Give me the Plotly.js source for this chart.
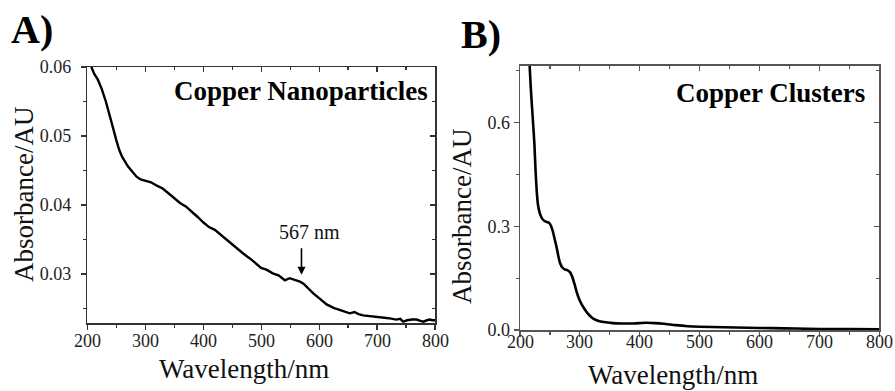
<!DOCTYPE html>
<html>
<head>
<meta charset="utf-8">
<script src="https://cdn.plot.ly/plotly-3.0.1.min.js"></script>
<style>html,body{margin:0;padding:0;background:#fff}#chart{width:895px;height:391px}</style>
</head>
<body>
<div id="chart"></div>
<script>
// Panel A: Copper Nanoparticles
const wlA = [207,212,218,225,232,238,245,250,255,260,265,270,275,280,285,292,300,310,320,330,340,350,360,370,380,390,400,410,420,430,440,450,460,470,480,490,500,510,515,520,530,536,541,549,556,562,567,573,580,590,600,613,625,639,646,653,661,668,676,690,705,720,733,740,745,752,760,768,775,780,786,791,796,800];
const absA = [0.0600,0.0590,0.0582,0.0568,0.0550,0.0533,0.0510,0.0494,0.0480,0.0470,0.0462,0.0456,0.0451,0.0446,0.0441,0.0437,0.0435,0.0433,0.0428,0.0424,0.0417,0.0410,0.0403,0.0398,0.0391,0.0383,0.0375,0.0368,0.0364,0.0357,0.0350,0.0343,0.0335,0.0329,0.0323,0.0316,0.0309,0.0306,0.0303,0.0301,0.0298,0.0294,0.0291,0.0294,0.0292,0.0291,0.0289,0.0286,0.0280,0.0272,0.0265,0.0256,0.0251,0.0247,0.0246,0.0243,0.0245,0.0242,0.0240,0.0239,0.0237,0.0236,0.0234,0.0235,0.0231,0.0233,0.0234,0.0234,0.0232,0.0231,0.0233,0.0234,0.0233,0.0233];

// Panel B: Copper Clusters
const wlB = [215,218,221,224,226,228,230,233,237,241,245,249,252,255,258,261,264,267,271,275,279,283,287,291,295,299,303,308,313,318,323,330,340,355,370,390,410,425,440,460,480,500,540,580,620,660,700,750,800];
const absB = [0.800,0.700,0.620,0.540,0.460,0.400,0.362,0.338,0.322,0.315,0.312,0.309,0.300,0.284,0.262,0.240,0.214,0.193,0.180,0.175,0.173,0.168,0.155,0.133,0.108,0.088,0.074,0.060,0.048,0.039,0.032,0.027,0.023,0.020,0.019,0.019,0.021,0.020,0.018,0.014,0.011,0.0095,0.008,0.0067,0.0053,0.0042,0.0030,0.0025,0.0020];

const xTicks = [200,300,400,500,600,700,800];
const yTicksA = [0.03,0.04,0.05,0.06];
const yTicksB = [0.0,0.3,0.6];

const labelA = 'A)', labelB = 'B)';
const titleA = 'Copper Nanoparticles', titleB = 'Copper Clusters';
const peakLabel = '567 nm', peakWl = 569.6, peakAbs = 0.0299;
const xTitle = 'Wavelength/nm', yTitle = 'Absorbance/AU';

const W = 895, H = 391;
const px = v => v / W, py = v => 1 - v / H;
const FONT = 'Liberation Serif, Times New Roman, serif';

const rangeA = [0.02286, 0.06];
const rangeB = [0, 0.764];

const tickFont = {family: FONT, size: 18, color: '#222'};

function mainX(domain, anchor, lc) {
  return {domain: domain, anchor: anchor, range: [200, 800], tickvals: xTicks,
    ticks: 'outside', ticklen: 5, tickwidth: 1.2, tickcolor: lc,
    minor: {ticks: 'outside', ticklen: 3, tickwidth: 1.2, tickcolor: lc, dtick: 50, tick0: 0},
    showline: true, linecolor: lc, linewidth: 1.5, mirror: true, showgrid: false, zeroline: false,
    showticklabels: false, fixedrange: true};
}
function mainY(domain, anchor, range, vals, fmt, minorD, lc, standoff) {
  return {domain: domain, anchor: anchor, range: range, tickvals: vals, ticktext: vals.map(v => v.toFixed(fmt)),
    ticks: 'outside', ticklen: 5, tickwidth: 1.2, tickcolor: lc,
    minor: {ticks: 'outside', ticklen: 3, tickwidth: 1.2, tickcolor: lc, dtick: minorD, tick0: 0},
    showline: true, linecolor: lc, linewidth: 1.5, mirror: true, showgrid: false, zeroline: false,
    tickfont: tickFont, ticklabelstandoff: standoff, fixedrange: true};
}
function mirrorX(over, anchor, lc) {
  return {overlaying: over, anchor: anchor, side: 'top', range: [200, 800], tickvals: xTicks,
    ticks: 'inside', ticklen: 5, tickwidth: 1.2, tickcolor: lc,
    minor: {ticks: 'inside', ticklen: 3, tickwidth: 1.2, tickcolor: lc, dtick: 50, tick0: 0},
    showticklabels: false, showline: false, showgrid: false, zeroline: false, fixedrange: true};
}
function mirrorY(over, anchor, range, vals, minorD, lc) {
  return {overlaying: over, anchor: anchor, side: 'right', range: range, tickvals: vals,
    ticks: 'inside', ticklen: 5, tickwidth: 1.2, tickcolor: lc,
    minor: {ticks: 'inside', ticklen: 3, tickwidth: 1.2, tickcolor: lc, dtick: minorD, tick0: 0},
    showticklabels: false, showline: false, showgrid: false, zeroline: false, fixedrange: true};
}

const domAx = [px(87.3), px(435)], domAy = [py(323.3), py(67)];
const domBx = [px(520), px(879.3)], domBy = [py(330), py(65.7)];
const lcA = '#333', lcB = '#555';

const data = [
  {x: wlA, y: absA, xaxis: 'x', yaxis: 'y', type: 'scatter', mode: 'lines', line: {color: '#000', width: 2.4}, hoverinfo: 'skip', showlegend: false},
  {x: wlA, y: absA, xaxis: 'x3', yaxis: 'y3', type: 'scatter', mode: 'lines', line: {color: 'rgba(0,0,0,0)', width: 0.1}, hoverinfo: 'skip', showlegend: false},
  {x: wlB, y: absB, xaxis: 'x2', yaxis: 'y2', type: 'scatter', mode: 'lines', line: {color: '#000', width: 2.6, shape: 'spline', smoothing: 0.6}, hoverinfo: 'skip', showlegend: false},
  {x: wlB, y: absB, xaxis: 'x4', yaxis: 'y4', type: 'scatter', mode: 'lines', line: {color: 'rgba(0,0,0,0)', width: 0.1}, hoverinfo: 'skip', showlegend: false}
];

// x tick labels sit tight under the ticks, so place them as annotations on each x scale
const xTickLabels = (xref, yPix) => xTicks.map(v => ({xref: xref, yref: 'paper', x: v, y: py(yPix), xanchor: 'center', yanchor: 'middle',
  text: String(v), showarrow: false, font: tickFont}));

const layout = {
  width: W, height: H, margin: {l: 0, r: 0, t: 0, b: 0},
  paper_bgcolor: '#fff', plot_bgcolor: '#fff', showlegend: false,
  font: {family: FONT, color: '#000'},
  xaxis: mainX(domAx, 'y', lcA),
  yaxis: mainY(domAy, 'x', rangeA, yTicksA, 2, 0.005, lcA, 6),
  xaxis3: mirrorX('x', 'y3', lcA),
  yaxis3: mirrorY('y', 'x3', rangeA, yTicksA, 0.005, lcA),
  xaxis2: mainX(domBx, 'y2', lcB),
  yaxis2: mainY(domBy, 'x2', rangeB, yTicksB, 1, 0.15, lcB, 0),
  xaxis4: mirrorX('x2', 'y4', lcB),
  yaxis4: mirrorY('y2', 'x4', rangeB, yTicksB, 0.15, lcB),
  annotations: [
    {xref: 'paper', yref: 'paper', x: px(9), y: py(29), xanchor: 'left', yanchor: 'middle', text: '<b>' + labelA + '</b>', showarrow: false, font: {family: FONT, size: 40, color: '#000'}},
    {xref: 'paper', yref: 'paper', x: px(459), y: py(35), xanchor: 'left', yanchor: 'middle', text: '<b>' + labelB + '</b>', showarrow: false, font: {family: FONT, size: 40, color: '#000'}},
    {xref: 'paper', yref: 'paper', x: px(430), y: py(91), xanchor: 'right', yanchor: 'middle', text: '<b>' + titleA + '</b>', showarrow: false, font: {family: FONT, size: 27, color: '#000'}},
    {xref: 'paper', yref: 'paper', x: px(867), y: py(93), xanchor: 'right', yanchor: 'middle', text: '<b>' + titleB + '</b>', showarrow: false, font: {family: FONT, size: 27, color: '#000'}},
    {xref: 'paper', yref: 'paper', x: px(243.5), y: py(369), xanchor: 'center', yanchor: 'middle', text: xTitle, showarrow: false, font: {family: FONT, size: 27, color: '#111'}},
    {xref: 'paper', yref: 'paper', x: px(673), y: py(375), xanchor: 'center', yanchor: 'middle', text: xTitle, showarrow: false, font: {family: FONT, size: 27, color: '#111'}},
    {xref: 'paper', yref: 'paper', x: px(24), y: py(195), xanchor: 'center', yanchor: 'middle', textangle: -90, text: yTitle, showarrow: false, font: {family: FONT, size: 27, color: '#111'}},
    {xref: 'paper', yref: 'paper', x: px(462), y: py(217), xanchor: 'center', yanchor: 'middle', textangle: -90, text: yTitle, showarrow: false, font: {family: FONT, size: 27, color: '#111'}},
    {xref: 'x', yref: 'y', x: peakWl, y: peakAbs, ax: 0, ay: -28, showarrow: true, arrowhead: 2, arrowsize: 1, arrowwidth: 1.6, arrowcolor: '#000', text: ''},
    {xref: 'x', yref: 'y', x: 583, y: 0.0361, xanchor: 'center', yanchor: 'middle', text: peakLabel, showarrow: false, font: {family: FONT, size: 20, color: '#111'}}
  ].concat(xTickLabels('x', 341)).concat(xTickLabels('x2', 342))
};

Plotly.newPlot('chart', data, layout, {displayModeBar: false, staticPlot: true});
</script>
</body>
</html>
